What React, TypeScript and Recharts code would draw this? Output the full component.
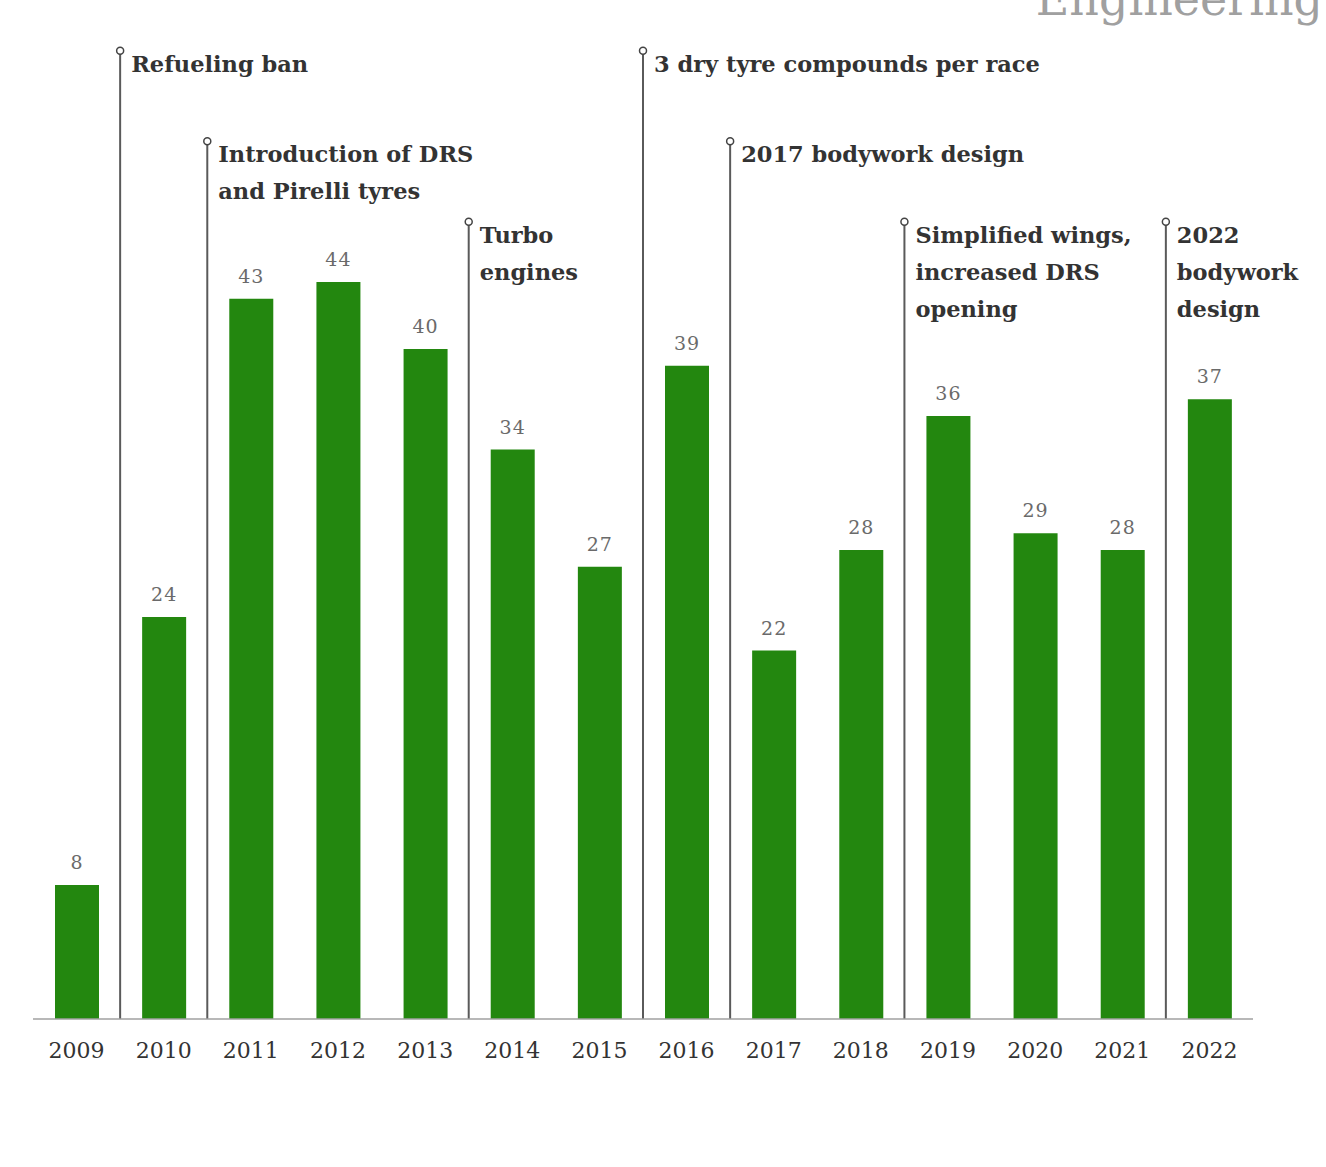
import React from 'react';
import { BarChart, Bar, XAxis, YAxis, LabelList, ReferenceLine, Customized } from 'recharts';

if (typeof document !== 'undefined') {
  document.body.style.margin = '0';
}

const years = ['2009', '2010', '2011', '2012', '2013', '2014', '2015', '2016', '2017', '2018', '2019', '2020', '2021', '2022'];
const values = [8, 24, 43, 44, 40, 34, 27, 39, 22, 28, 36, 29, 28, 37];

const annotationYears = ['2010', '2011', '2014', '2016', '2017', '2019', '2022'];
const annotationTexts = [
  ['Refueling ban'],
  ['Introduction of DRS', 'and Pirelli tyres'],
  ['Turbo', 'engines'],
  ['3 dry tyre compounds per race'],
  ['2017 bodywork design'],
  ['Simplified wings,', 'increased DRS', 'opening'],
  ['2022', 'bodywork', 'design'],
];
const annotationTiers = [1, 2, 3, 1, 2, 3, 3];

const data = years.map((y, i) => ({ year: y, v: values[i] }));

const FONT = '"DejaVu Serif", serif';
const TIER_Y: Record<number, number> = { 1: 57.8, 2: 52.4, 3: 47.6 };

const Title = () => (
  <text x={1323} y={15} textAnchor="end" fontFamily={FONT} fontSize={46} fill="#a0a0a0">
    Engineering
  </text>
);

const makeLabel = (lines: string[]) => (props: any) => {
  const vb = props.viewBox || {};
  const x = vb.x ?? vb.x1;
  const y = vb.y ?? Math.min(vb.y1, vb.y2);
  return (
    <g>
      <circle cx={x} cy={y} r={3.5} fill="#fff" stroke="#444" strokeWidth={1.5} />
      <text x={x + 11} y={y + 21} fontFamily={FONT} fontSize={22.5} fontWeight="bold" fill="#333">
        {lines.map((l, i) => (
          <tspan key={i} x={x + 11} dy={i === 0 ? 0 : 37}>
            {l}
          </tspan>
        ))}
      </text>
    </g>
  );
};

export default function App() {
  return (
    <div style={{ width: 1326, height: 1167, background: '#fff' }}>
      <BarChart
        width={1326}
        height={1167}
        data={data}
        margin={{ top: 14, right: 73, left: 33, bottom: 118 }}
      >
        <XAxis
          dataKey="year"
          height={30}
          tickLine={false}
          tickSize={6}
          tickMargin={17}
          axisLine={{ stroke: '#a0a0a0', strokeWidth: 1.5 }}
          tick={{ fill: '#333', fontSize: 22, fontFamily: FONT }}
          interval={0}
        />
        <YAxis hide domain={[0, 60]} />
        <Bar dataKey="v" fill="#23870f" barSize={44} isAnimationActive={false}>
          <LabelList dataKey="v" position="top" offset={16} fill="#6a6a6a" fontSize={19} letterSpacing={1} fontFamily={FONT} />
        </Bar>
        {annotationYears.map((yr, i) => (
          <ReferenceLine
            key={yr}
            segment={[
              { x: yr, y: 0 },
              { x: yr, y: TIER_Y[annotationTiers[i]] },
            ]}
            position="start"
            stroke="#5a5a5a"
            strokeWidth={2}
            ifOverflow="visible"
            label={makeLabel(annotationTexts[i])}
          />
        ))}
        <Customized component={<Title />} />
      </BarChart>
    </div>
  );
}
